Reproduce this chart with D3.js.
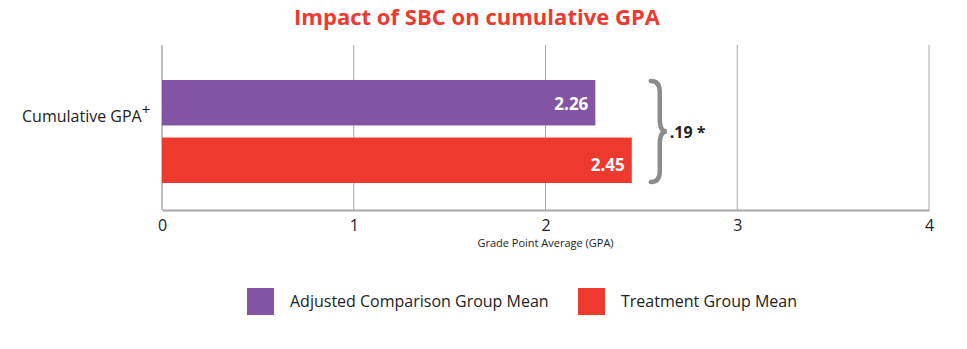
<!DOCTYPE html>
<html>
<head>
<meta charset="utf-8">
<script src="https://cdn.jsdelivr.net/npm/d3@7"></script>
<style>
  body { margin: 0; background: #fff; }
  text { font-family: "Open Sans", "Noto Sans", sans-serif; }
</style>
</head>
<body>
<div id="chart"></div>
<script>
const width = 967, height = 349
const category = 'Cumulative GPA'
const groups = ['Adjusted Comparison Group Mean', 'Treatment Group Mean']
const values = [2.26, 2.45]
const colors = ['#8254a3', '#ee3a2e']
const xTicks = [0, 1, 2, 3, 4]
const diffLabel = '.19 *'

const margin = { left: 162, right: 38, top: 45, bottom: 139 }

const x = d3.scaleLinear().domain([0, 4]).range([margin.left, width - margin.right])
const y = d3.scaleBand().domain(groups).range([80, 183]).paddingInner(0.21)

const svg = d3.select('#chart').append('svg')
  .attr('width', width)
  .attr('height', height)

svg.append('text')
  .attr('x', 477).attr('y', 25)
  .attr('text-anchor', 'middle')
  .attr('fill', '#ee3a2e')
  .attr('font-weight', 'bold')
  .attr('font-size', 22)
  .attr('textLength', 366)
  .text('Impact of SBC on cumulative GPA')

// grid lines
svg.append('g')
  .selectAll('line')
  .data(xTicks.slice(1))
  .join('line')
  .attr('x1', d => x(d)).attr('x2', d => x(d))
  .attr('y1', margin.top).attr('y2', height - margin.bottom)
  .attr('stroke', '#a8a8a8')
  .attr('stroke-width', 1)

// axes frame
svg.append('line')
  .attr('x1', x(0)).attr('x2', x(0))
  .attr('y1', margin.top).attr('y2', height - margin.bottom)
  .attr('stroke', '#a8a8a8').attr('stroke-width', 1.5)

const xAxis = svg.append('g')
  .attr('transform', `translate(0,${height - margin.bottom})`)
  .call(d3.axisBottom(x).tickValues(xTicks).tickSize(0).tickPadding(10).tickFormat(d3.format('d')))
xAxis.select('.domain').attr('stroke', '#a8a8a8').attr('stroke-width', 2)
xAxis.selectAll('text')
  .attr('font-size', 16)
  .attr('fill', '#222')
  .style('font-family', '"Open Sans", sans-serif')

svg.append('text')
  .attr('x', x(2)).attr('y', 247)
  .attr('text-anchor', 'middle')
  .attr('font-size', 11)
  .attr('fill', '#222')
  .text('Grade Point Average (GPA)')

// category label
const cat = svg.append('text')
  .attr('x', 22).attr('y', 122)
  .attr('font-size', 16)
  .attr('fill', '#222')
cat.append('tspan').text(category)
cat.append('tspan').attr('dy', -7).attr('font-size', 15).text('+')

// bars
svg.append('g')
  .selectAll('rect')
  .data(groups)
  .join('rect')
  .attr('x', x(0))
  .attr('y', d => y(d))
  .attr('width', (d, i) => x(values[i]) - x(0))
  .attr('height', y.bandwidth())
  .attr('fill', (d, i) => colors[i])

svg.append('g')
  .selectAll('text')
  .data(groups)
  .join('text')
  .attr('x', (d, i) => x(values[i]) - 7)
  .attr('y', (d, i) => y(d) + y.bandwidth() / 2 + 7 + i * 4)
  .attr('text-anchor', 'end')
  .attr('fill', '#fff')
  .attr('font-weight', 'bold')
  .attr('font-size', 17)
  .text((d, i) => d3.format('.2f')(values[i]))

// brace
const by0 = y(groups[0]), by1 = y(groups[1]) + y.bandwidth()
const bmid = (by0 + by1) / 2
const bx = x(d3.max(values)) + 22
const p = d3.path()
p.moveTo(bx - 3, by0 + 1)
p.quadraticCurveTo(bx + 6, by0 + 1, bx + 6, by0 + 12)
p.lineTo(bx + 6, bmid - 12)
p.quadraticCurveTo(bx + 6, bmid, bx + 13, bmid)
p.quadraticCurveTo(bx + 6, bmid, bx + 6, bmid + 12)
p.lineTo(bx + 6, by1 - 12)
p.quadraticCurveTo(bx + 6, by1 - 1, bx - 3, by1 - 1)
svg.append('path')
  .attr('d', p.toString())
  .attr('fill', 'none')
  .attr('stroke', '#8c8c8c')
  .attr('stroke-width', 4.5)
  .attr('stroke-linecap', 'round')

svg.append('text')
  .attr('x', bx + 16).attr('y', bmid + 6)
  .attr('font-weight', 'bold')
  .attr('font-size', 16)
  .attr('fill', '#222')
  .text(diffLabel)

// legend
const legendX = [247, 578]
const legend = svg.append('g')
  .selectAll('g')
  .data(groups)
  .join('g')
  .attr('transform', (d, i) => `translate(${legendX[i]},288)`)
legend.append('rect')
  .attr('width', 27).attr('height', 27)
  .attr('fill', (d, i) => colors[i])
legend.append('text')
  .attr('x', 43).attr('y', 19)
  .attr('font-size', 16)
  .attr('fill', '#222')
  .text(d => d)
</script>
</body>
</html>
